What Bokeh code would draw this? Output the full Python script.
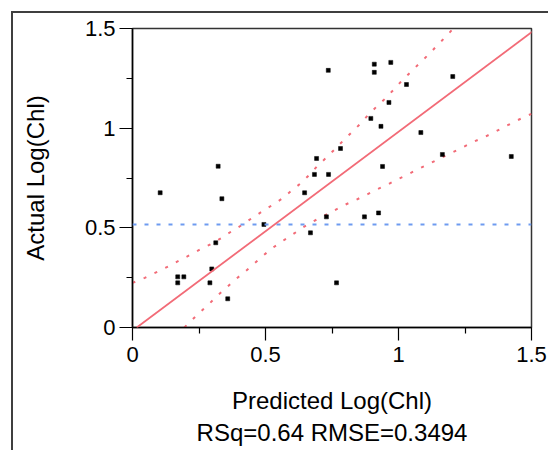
from bokeh.plotting import figure
from bokeh.models import Range1d, FixedTicker, NumeralTickFormatter, Slope, Span, Title, ColumnDataSource
from bokeh.embed import file_html
from bokeh.resources import INLINE

# ---- data ----
predicted = [0.322, 0.736, 0.909, 0.971, 0.909, 0.964, 0.896, 0.934, 0.782, 0.692,
             0.684, 0.737, 0.940, 1.030, 1.204, 1.084, 1.165, 1.424, 0.104, 0.336,
             0.494, 0.313, 0.298, 0.170, 0.193, 0.170, 0.291, 0.358, 0.647, 0.729,
             0.872, 0.925, 0.669, 0.767]
actual = [0.809, 1.290, 1.321, 1.330, 1.280, 1.129, 1.049, 1.009, 0.898, 0.848,
          0.768, 0.768, 0.808, 1.219, 1.259, 0.978, 0.868, 0.858, 0.676, 0.646,
          0.517, 0.425, 0.294, 0.254, 0.254, 0.224, 0.224, 0.144, 0.676, 0.555,
          0.555, 0.575, 0.475, 0.224]

fit_intercept = -0.016
fit_slope = 0.998
mean_actual = 0.517

upper_x = [0.0, 0.046, 0.093, 0.134, 0.176, 0.215, 0.256, 0.297, 0.335, 0.372,
           0.41, 0.447, 0.485, 0.525, 0.563, 0.598, 0.633, 0.664, 0.694, 0.727,
           0.761, 0.792, 0.823, 0.855, 0.886, 0.917, 0.951, 0.982, 1.011, 1.047,
           1.079, 1.112, 1.142, 1.174, 1.206]
upper_y = [0.224, 0.249, 0.279, 0.306, 0.336, 0.363, 0.393, 0.42, 0.45, 0.482,
           0.513, 0.547, 0.58, 0.614, 0.647, 0.687, 0.724, 0.765, 0.809, 0.85,
           0.895, 0.937, 0.978, 1.02, 1.067, 1.107, 1.15, 1.193, 1.236, 1.283,
           1.326, 1.368, 1.41, 1.454, 1.5]
lower_x = [0.195, 0.219, 0.253, 0.287, 0.320, 0.354, 0.388, 0.422, 0.455, 0.489,
           0.523, 0.56, 0.598, 0.635, 0.673, 0.717, 0.754, 0.796, 0.838, 0.877,
           0.917, 0.959, 0.996, 1.035, 1.079, 1.120, 1.159, 1.202, 1.243, 1.283,
           1.324, 1.365, 1.406, 1.446, 1.5]
lower_y = [0.0, 0.032, 0.075, 0.117, 0.161, 0.201, 0.242, 0.279, 0.318, 0.358,
           0.396, 0.43, 0.463, 0.497, 0.528, 0.558, 0.584, 0.614, 0.639, 0.664,
           0.692, 0.717, 0.743, 0.768, 0.798, 0.824, 0.851, 0.878, 0.905, 0.932,
           0.956, 0.983, 1.012, 1.039, 1.072]

major_ticks = [0, 0.5, 1, 1.5]
minor_ticks = [0.25, 0.75, 1.25]

x_title = "Predicted Log(Chl)"
stats_text = "RSq=0.64 RMSE=0.3494"
y_title = "Actual Log(Chl)"

FONT = "Liberation Sans"

p = figure(width=537, height=439, x_range=Range1d(0, 1.5), y_range=Range1d(0, 1.5),
           min_border_left=119, min_border_right=19, min_border_top=15, min_border_bottom=125,
           output_backend="svg", toolbar_location=None)
p.styles = {"margin-left": "11px", "margin-top": "11px",
            "border-left": "2px solid #3f3f3f", "border-top": "2px solid #3f3f3f"}
p.grid.visible = False
p.background_fill_color = "white"
p.border_fill_color = "white"
p.outline_line_color = "#333333"
p.outline_line_width = 1.5

for ax in (p.xaxis[0], p.yaxis[0]):
    ax.ticker = FixedTicker(ticks=major_ticks, minor_ticks=minor_ticks)
    ax.formatter = NumeralTickFormatter(format="0.[0]")
    ax.major_tick_out = 13
    ax.major_tick_in = 0
    ax.minor_tick_out = 6
    ax.minor_tick_in = 0
    ax.axis_line_color = "black"
    ax.axis_line_width = 1.5
    ax.major_tick_line_color = "black"
    ax.minor_tick_line_color = "black"
    ax.major_tick_line_width = 1.2
    ax.minor_tick_line_width = 1.2
    ax.major_label_text_font = FONT
    ax.major_label_text_font_size = "22px"
    ax.major_label_text_color = "black"
    ax.axis_label_text_font = FONT
    ax.axis_label_text_font_size = "24px"
    ax.axis_label_text_font_style = "normal"
    ax.axis_label_text_color = "black"

p.xaxis.axis_label = x_title
p.xaxis.major_label_standoff = 6
p.xaxis.axis_label_standoff = 22
p.yaxis.axis_label = y_title
p.yaxis.major_label_standoff = 4
p.yaxis.axis_label_standoff = 33

stats = Title(text=stats_text, align="center", text_font=FONT, text_font_size="24px",
              text_font_style="normal", text_color="black", standoff=0)
p.add_layout(stats, "below")

p.add_layout(Span(location=mean_actual, dimension="width", line_color="#6e9bf0",
                  line_width=2, line_dash="4 8"))
p.add_layout(Slope(gradient=fit_slope, y_intercept=fit_intercept,
                   line_color="#f26b77", line_width=1.8))
p.line(upper_x, upper_y, line_color="#f26b77", line_width=2, line_dash="3 9")
p.line(lower_x, lower_y, line_color="#f26b77", line_width=2, line_dash="3 9")

src = ColumnDataSource(dict(x=predicted, y=actual))
p.scatter("x", "y", source=src, marker="square", size=4, fill_color="black",
          line_color="black", line_width=0.5)

open("out.html", "w").write(file_html(p, INLINE))
